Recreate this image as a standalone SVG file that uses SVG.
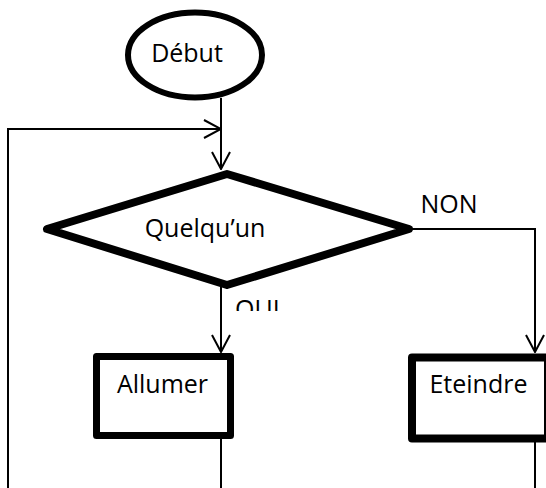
<svg xmlns="http://www.w3.org/2000/svg" width="546" height="488" viewBox="0 0 546 488">
  <style>
    .conn { fill: none; stroke: #000; stroke-width: 2; }
    .shape { fill: #fff; stroke: #000; stroke-linejoin: round; }
    .lbl { font-family: "Open Sans", "Liberation Sans", sans-serif; font-size: 25px; fill: #000; }
  </style>
  <defs>
    <marker id="arr" viewBox="0 0 20 20" refX="19" refY="10" markerWidth="20" markerHeight="20" markerUnits="userSpaceOnUse" orient="auto">
      <path d="M2,1 L19,10 L2,19" fill="none" stroke="#000" stroke-width="2"/>
    </marker>
    <clipPath id="ouiClip">
      <rect x="225" y="290" width="80" height="21"/>
    </clipPath>
  </defs>
  <rect width="546" height="488" fill="#fff"/>

  <g id="connectors">
    <path class="conn" d="M221,98 L221,169" marker-end="url(#arr)"/>
    <path class="conn" d="M8,488 L8,129 L221,129" marker-end="url(#arr)"/>
    <path class="conn" d="M221,287 L221,352" marker-end="url(#arr)"/>
    <path class="conn" d="M409,229 L535,229 L535,352" marker-end="url(#arr)"/>
    <path class="conn" d="M221,439 L221,488"/>
    <path class="conn" d="M535,442 L535,488"/>
    <text class="lbl" x="449" y="213" text-anchor="middle">NON</text>
    <text class="lbl" x="235" y="318" clip-path="url(#ouiClip)">OUI</text>
  </g>

  <g id="debut">
    <ellipse class="shape" cx="195" cy="55" rx="67" ry="42.5" stroke-width="6"/>
    <text class="lbl" x="187" y="62" text-anchor="middle">Début</text>
  </g>

  <g id="quelquun">
    <polygon class="shape" points="227,174 409,229 227,285 47,229" stroke-width="8"/>
    <text class="lbl" x="205" y="237" text-anchor="middle">Quelqu’un</text>
  </g>

  <g id="allumer">
    <rect class="shape" x="96.5" y="356.5" width="134" height="79" stroke-width="7"/>
    <text class="lbl" x="162.5" y="393" text-anchor="middle">Allumer</text>
  </g>

  <g id="eteindre">
    <rect class="shape" x="412" y="357.5" width="136" height="81" stroke-width="8"/>
    <text class="lbl" x="478.5" y="393" text-anchor="middle">Eteindre</text>
  </g>
</svg>
